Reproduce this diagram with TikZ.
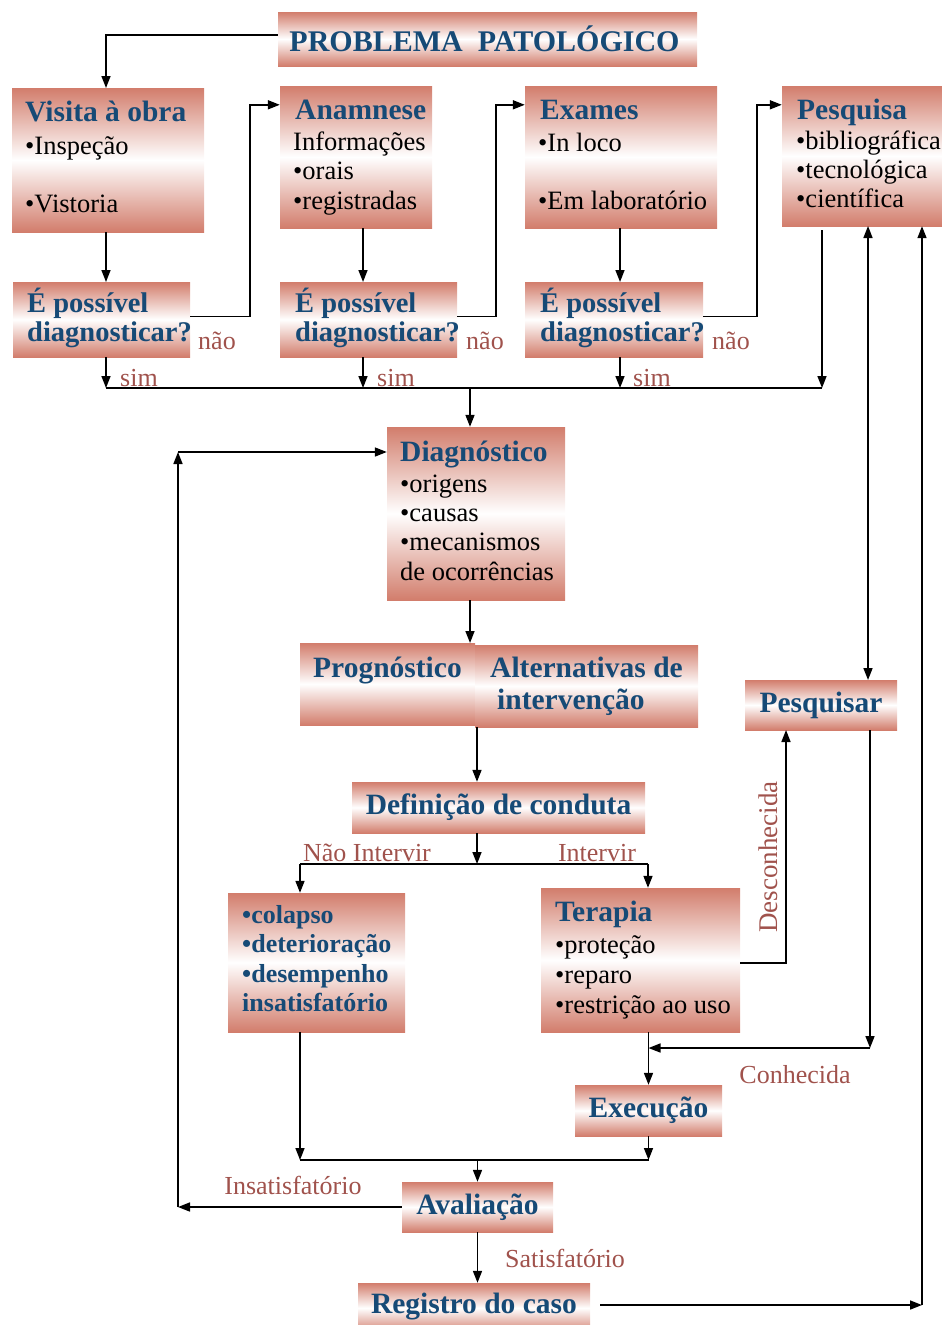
\documentclass[tikz,border=0pt]{standalone}
\usepackage{fontspec}
\setmainfont{Liberation Serif}
\usetikzlibrary{arrows.meta,calc}
\definecolor{boxc}{RGB}{210,125,108}
\definecolor{tblue}{RGB}{22,74,118}
\definecolor{lblc}{RGB}{160,82,76}
\begin{document}
\begin{tikzpicture}[x=1pt,y=-1pt,
  box/.style={rectangle, inner sep=0pt, top color=boxc, bottom color=boxc, middle color=white},
  ttl/.style={font=\fontsize{29.5}{31}\selectfont\bfseries, text=tblue, inner sep=0pt, anchor=base west},
  ctl/.style={font=\fontsize{29.5}{31}\selectfont\bfseries, text=tblue, inner sep=0pt},
  qst/.style={font=\fontsize{28.5}{30}\selectfont\bfseries, text=tblue, inner sep=0pt, anchor=base west},
  bit/.style={font=\fontsize{26}{28}\selectfont\bfseries, text=tblue, inner sep=0pt, anchor=base west},
  itm/.style={font=\fontsize{26.5}{29}\selectfont, inner sep=0pt, anchor=base west},
  lbl/.style={font=\fontsize{26}{28}\selectfont, text=lblc, inner sep=0pt},
  arr/.style={-{Triangle[length=12pt,width=9pt]}, line width=1.6pt},
  arrb/.style={{Triangle[length=12pt,width=9pt]}-{Triangle[length=12pt,width=9pt]}, line width=1.6pt},
  ln/.style={line width=1.6pt}]
\useasboundingbox (0,0) rectangle (942,1325);
\clip (0,0) rectangle (942,1325);

% ---------- boxes ----------
\node[box, minimum width=419pt, minimum height=54pt] (prob) at (487.5,39) {};
\node[box, minimum width=192pt, minimum height=144pt] (visita) at (108,160) {};
\node[box, minimum width=152pt, minimum height=142pt] (anam) at (356,157) {};
\node[box, minimum width=192pt, minimum height=142pt] (exam) at (621,157) {};
\node[box, minimum width=160pt, minimum height=140pt] (pesq) at (862,156) {};
\node[box, minimum width=177pt, minimum height=75pt] (pos1) at (101.5,319.5) {};
\node[box, minimum width=177pt, minimum height=75pt] (pos2) at (368.5,319.5) {};
\node[box, minimum width=178pt, minimum height=75pt] (pos3) at (614,319.5) {};
\node[box, minimum width=178pt, minimum height=173pt] (diag) at (476,513.5) {};
\node[box, minimum width=175pt, minimum height=82pt] (prog) at (387.5,684) {};
\node[box, minimum width=223pt, minimum height=82pt] (alt) at (586.5,686) {};
\node[box, minimum width=152pt, minimum height=50pt] (pesqr) at (821,705) {};
\node[box, minimum width=293pt, minimum height=51pt] (def) at (498.5,807.5) {};
\node[box, minimum width=177pt, minimum height=139pt] (col) at (316.5,962.5) {};
\node[box, minimum width=199pt, minimum height=144pt] (ter) at (640.5,960) {};
\node[box, minimum width=147pt, minimum height=51pt] (exec) at (648.5,1110.5) {};
\node[box, minimum width=151pt, minimum height=50pt] (aval) at (477.5,1207) {};
\node[box, minimum width=232pt, minimum height=50pt] (reg) at (474,1308) {};

% ---------- texts ----------
\node[ctl, font=\fontsize{30}{32}\selectfont\bfseries] (probT) at ([xshift=-3pt]prob.center) {PROBLEMA\ \ PATOLÓGICO};

\node[ttl] (visT) at (25,121) {Visita à obra};
\node[itm] (vis1) at (25,154) {•Inspeção};
\node[itm] (vis2) at (25,212) {•Vistoria};

\node[ttl] (anT) at (295,119) {Anamnese};
\node[itm] (an1) at (293,150) {Informações};
\node[itm] (an2) at (293,179) {•orais};
\node[itm] (an3) at (293,209) {•registradas};

\node[ttl] (exT) at (540,119) {Exames};
\node[itm] (ex1) at (538,151) {•In loco};
\node[itm] (ex2) at (538,209) {•Em laboratório};

\node[ttl] (peT) at (797,119) {Pesquisa};
\node[itm] (pe1) at (796,149) {•bibliográfica};
\node[itm] (pe2) at (796,178) {•tecnológica};
\node[itm] (pe3) at (796,207) {•científica};

\node[qst] (q1a) at (27,312) {É possível};
\node[qst] (q1b) at (27,341) {diagnosticar?};
\node[qst] (q2a) at (295,312) {É possível};
\node[qst] (q2b) at (295,341) {diagnosticar?};
\node[qst] (q3a) at (540,312) {É possível};
\node[qst] (q3b) at (540,341) {diagnosticar?};

\node[ttl] (diT) at (400,461) {Diagnóstico};
\node[itm] (di1) at (400,492) {•origens};
\node[itm] (di2) at (400,521) {•causas};
\node[itm] (di3) at (400,550) {•mecanismos};
\node[itm] (di4) at (400,580) {de ocorrências};

\node[ttl] (prT) at (313,677) {Prognóstico};
\node[ttl] (alT1) at (490,677) {Alternativas de};
\node[ttl] (alT2) at (497,709) {intervenção};

\node[ctl] (pqT) at (pesqr.center) {Pesquisar};
\node[ctl] (dfT) at (def.center) {Definição de conduta};

\node[bit] (co1) at (242,923) {•colapso};
\node[bit] (co2) at (242,952) {•deterioração};
\node[bit] (co3) at (242,982) {•desempenho};
\node[bit] (co4) at (242,1011) {insatisfatório};

\node[ttl] (teT) at (555,921) {Terapia};
\node[itm] (te1) at (555,953) {•proteção};
\node[itm] (te2) at (555,983) {•reparo};
\node[itm] (te3) at (555,1013) {•restrição ao uso};

\node[ctl] (exT2) at (exec.center) {Execução};
\node[ctl] (avT) at (aval.center) {Avaliação};
\node[ctl] (rgT) at ([yshift=1pt]reg.center) {Registro do caso};

% ---------- labels ----------
\node[lbl] (n1) at (217,341) {não};
\node[lbl] (n2) at (485,341) {não};
\node[lbl] (n3) at (731,341) {não};
\node[lbl] (s1) at (139,378) {sim};
\node[lbl] (s2) at (396,378) {sim};
\node[lbl] (s3) at (652,378) {sim};
\node[lbl] (nint) at (367,853) {Não Intervir};
\node[lbl] (int) at (597,853) {Intervir};
\node[lbl, rotate=90, font=\fontsize{27}{28}\selectfont] (desc) at (768,857) {Desconhecida};
\node[lbl] (conh) at (795,1075) {Conhecida};
\node[lbl] (insat) at (293,1185) {Insatisfatório};
\node[lbl] (sat) at (565,1258) {Satisfatório};

% ---------- coordinates ----------
\coordinate (bus1) at (106,388);
\coordinate (bus2) at (363,388);
\coordinate (bus3) at (620,388);
\coordinate (bus4) at (822,388);
\coordinate (busD) at (470,388);
\coordinate (dbus) at (477,864);
\coordinate (dbL) at (300,864);
\coordinate (dbR) at (648,864);
\coordinate (kn) at (870,1048);
\coordinate (ebL) at (300,1160);
\coordinate (ebR) at (648.5,1160);
\coordinate (ebM) at (477.5,1160);
\coordinate (lp1) at (178,1207);
\coordinate (lp2) at (178,452);
\coordinate (rr) at (922,1305);

% ---------- connectors ----------
\draw[arr] ([yshift=4pt]prob.west) -| (106,88);
\draw[arr] (106,232) -- (106,282);
\draw[arr] (363,228) -- (363,282);
\draw[arr] (620,228) -- (620,282);

\draw[arr] ([yshift=3pt]pos1.east) -- ++(60,0) |- ([yshift=-19pt]anam.north west);
\draw[arr] ([yshift=3pt]pos2.east) -- ++(39,0) |- ([yshift=-19pt]exam.north west);
\draw[arr] ([yshift=3pt]pos3.east) -- ++(54,0) |- ([yshift=-19pt]pesq.north west);

\draw[arr] (bus1 |- pos1.south) -- (bus1);
\draw[arr] (bus2 |- pos2.south) -- (bus2);
\draw[arr] (bus3 |- pos3.south) -- (bus3);
\draw[arr] ([yshift=-4pt]bus4 |- pesq.south) -- (bus4);
\draw[ln] (bus1) -- (bus4);
\draw[arr] (busD) -- (busD |- diag.north);

\draw[arr] (470,600) -- (470,643);
\draw[arr] (dbus |- alt.south) -- (dbus |- def.north);
\draw[arr] (dbus |- def.south) -- (dbus);
\draw[ln] (dbL) -- (dbR);
\draw[arr] (dbL) -- (dbL |- col.north);
\draw[arr] (dbR) -- (dbR |- ter.north);

\draw[arr] ([yshift=-75pt]ter.north east) -| (786,730);
\draw[arrb] (868,226) -- (868,680);
\draw[arr] (kn |- pesqr.south) -- (kn);
\draw[arr] (kn) -- (ebR |- kn);
\draw[arr] (ebR |- ter.south) -- (exec.north);

\draw[arr] (col.south -| ebL) -- (ebL);
\draw[arr] (exec.south) -- (ebR);
\draw[ln] (ebL) -- (ebR);
\draw[arr] (ebM) -- (aval.north);

\draw[arr] (aval.west) -- (lp1);
\draw[arr] (lp1) -- (lp2);
\draw[arr] (lp2) -- (lp2 -| diag.west);

\draw[arr] (aval.south) -- (aval.south |- reg.north);
\draw[arr] ([xshift=10pt]reg.east |- rr) -- (rr);
\draw[arr] (rr) -- (rr |- pesq.south);
\end{tikzpicture}
\end{document}
